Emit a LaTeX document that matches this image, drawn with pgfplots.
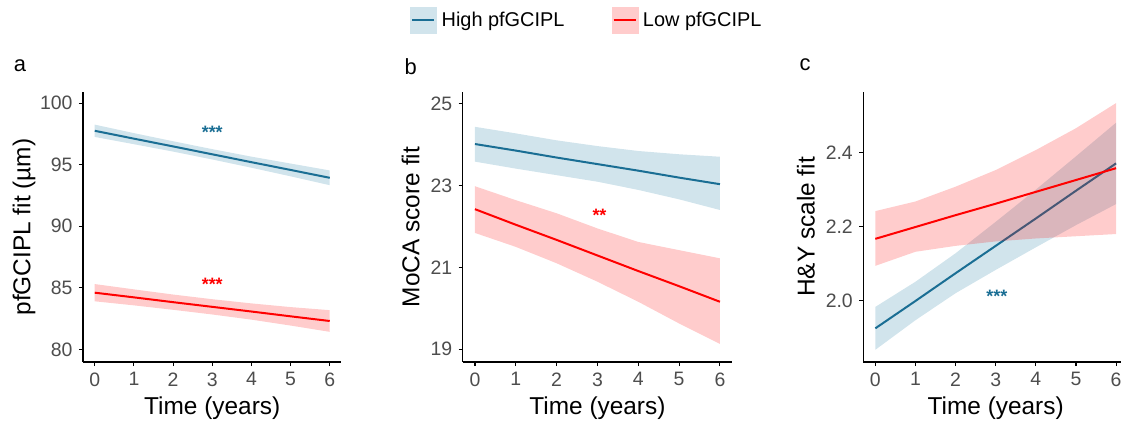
\documentclass[border=0pt]{standalone}
\usepackage{pgfplots}
\pgfplotsset{compat=1.18}
\usepackage{fontspec}
\setmainfont{Liberation Sans}

\definecolor{hiline}{HTML}{1A6E94}
\definecolor{hifill}{HTML}{D1E4EC}
\definecolor{loline}{HTML}{FF0000}
\definecolor{lofill}{HTML}{FFCCCC}
\definecolor{ticklab}{HTML}{4D4D4D}

\pgfplotsset{
  panel/.style={
    scale only axis, height=270bp,
    axis lines=left,
    axis line style={-, line width=1.1bp, black},
    tick align=outside, major tick length=4bp,
    every tick/.style={black, line width=1.1bp},
    xmin=-0.3, xmax=6.3, xtick={0,...,6},
    /pgf/number format/assume math mode=true,
    ticklabel style={font=\fontsize{19.5}{19.5}\selectfont, text=ticklab},
    xticklabel style={yshift=-3bp},
    yticklabel style={xshift=-3bp},
    xlabel={Time (years)},
    every axis x label/.style={at={(axis description cs:0.5,-0.17)}, anchor=center,
      font=\fontsize{24.5}{24.5}\selectfont},
  },
  ylab/.style={every axis y label/.style={at={(axis description cs:#1,0.5)}, rotate=90,
      anchor=center, font=\fontsize{24.5}{24.5}\selectfont}},
  hiband/.style={draw=none, fill=hifill, forget plot},
  loband/.style={draw=none, fill=red, fill opacity=0.2, forget plot},
  hil/.style={hiline, line width=2bp, forget plot},
  lol/.style={loline, line width=2bp, forget plot},
}

\begin{document}
\begin{tikzpicture}[x=1bp,y=1bp]
\useasboundingbox (0bp,0bp) rectangle (1121bp,425bp);

% panel a
\begin{axis}[panel, ylab=-0.228, at={(83bp,63bp)}, anchor=south west, width=258.5bp,
  ymin=78.97, ymax=100.9, ytick={80,85,...,100}, ylabel={pfGCIPL fit (µm)}]
\addplot[hiband] coordinates {(0,98.25)(1,97.56)(2,96.90)(3,96.26)(4,95.65)(5,95.09)(6,94.53)
  (6,93.33)(5,94.05)(4,94.75)(3,95.42)(2,96.06)(1,96.66)(0,97.25)} -- cycle;
\addplot[hil] coordinates {(0,97.75)(1,97.11)(2,96.48)(3,95.84)(4,95.20)(5,94.57)(6,93.93)};
\addplot[loband] coordinates {(0,85.30)(1,84.87)(2,84.45)(3,84.07)(4,83.73)(5,83.43)(6,83.18)
  (6,81.42)(5,81.93)(4,82.41)(3,82.83)(2,83.21)(1,83.57)(0,83.90)} -- cycle;
\addplot[lol] coordinates {(0,84.60)(1,84.22)(2,83.83)(3,83.45)(4,83.07)(5,82.68)(6,82.30)};
\node[text=hiline, font=\bfseries\fontsize{18}{18}\selectfont, yshift=-3.5bp] at (axis cs:3,97.9) {***};
\node[text=loline, font=\bfseries\fontsize{18}{18}\selectfont, yshift=-3.5bp] at (axis cs:3,85.6) {***};
\end{axis}

% panel b
\begin{axis}[panel, ylab=-0.193, at={(462.7bp,63bp)}, anchor=south west, width=269.5bp,
  ymin=18.69, ymax=25.28, ytick={19,21,23,25}, ylabel={MoCA score fit},
  legend style={at={(axis description cs:-0.1955,1.2667)}, anchor=west, draw=none, fill=none,
    inner sep=0pt, legend columns=2, font=\fontsize{20}{20}\selectfont,
    nodes={inner xsep=5bp},
    /tikz/every even column/.append style={column sep=42bp}},
  legend cell align=left]
\addlegendimage{legend image code/.code={\fill[hifill] (0bp,-13bp) rectangle (26bp,13bp);
  \draw[hiline, line width=2bp] (2bp,0bp) -- (24bp,0bp);}}
\addlegendentry{High pfGCIPL}
\addlegendimage{legend image code/.code={\fill[lofill] (0bp,-13bp) rectangle (26bp,13bp);
  \draw[loline, line width=2bp] (2bp,0bp) -- (24bp,0bp);}}
\addlegendentry{Low pfGCIPL}
\addplot[hiband] coordinates {(0,24.43)(1,24.27)(2,24.10)(3,23.96)(4,23.84)(5,23.76)(6,23.70)
  (6,22.40)(5,22.66)(4,22.89)(3,23.09)(2,23.25)(1,23.41)(0,23.58)} -- cycle;
\addplot[hil] coordinates {(0,24.01)(1,23.85)(2,23.68)(3,23.52)(4,23.36)(5,23.19)(6,23.03)};
\addplot[loband] coordinates {(0,22.98)(1,22.64)(2,22.32)(3,21.95)(4,21.62)(5,21.42)(6,21.22)
  (6,19.13)(5,19.63)(4,20.16)(3,20.65)(2,21.10)(1,21.50)(0,21.84)} -- cycle;
\addplot[lol] coordinates {(0,22.42)(1,22.04)(2,21.67)(3,21.29)(4,20.91)(5,20.54)(6,20.16)};
\node[text=loline, font=\bfseries\fontsize{18}{18}\selectfont, yshift=-3.5bp] at (axis cs:3.05,22.36) {**};
\end{axis}

% panel c
\begin{axis}[panel, ylab=-0.217, at={(863.3bp,63bp)}, anchor=south west, width=264.8bp,
  ymin=1.834, ymax=2.564, ytick={2.0,2.2,2.4}, ylabel={H\&Y scale fit},
  yticklabel style={/pgf/number format/.cd, fixed, fixed zerofill, precision=1}]
\addplot[hiband] coordinates {(0,1.983)(1,2.051)(2,2.128)(3,2.213)(4,2.300)(5,2.390)(6,2.481)
  (6,2.261)(5,2.204)(4,2.144)(3,2.083)(2,2.020)(1,1.947)(0,1.867)} -- cycle;
\addplot[hil] coordinates {(0,1.925)(1,1.999)(2,2.074)(3,2.148)(4,2.222)(5,2.297)(6,2.371)};
\addplot[loband] coordinates {(0,2.242)(1,2.268)(2,2.308)(3,2.353)(4,2.407)(5,2.466)(6,2.534)
  (6,2.180)(5,2.174)(4,2.168)(3,2.160)(2,2.148)(1,2.132)(0,2.094)} -- cycle;
\addplot[lol] coordinates {(0,2.167)(1,2.199)(2,2.231)(3,2.262)(4,2.294)(5,2.326)(6,2.358)};
\node[text=hiline, font=\bfseries\fontsize{18}{18}\selectfont, yshift=-3.5bp] at (axis cs:3.03,2.022) {***};
\end{axis}

\node[font=\fontsize{22}{22}\selectfont] at (20bp,359bp) {a};
\node[font=\fontsize{22}{22}\selectfont] at (410.7bp,358.5bp) {b};
\node[font=\fontsize{22}{22}\selectfont] at (805bp,360bp) {c};
\end{tikzpicture}
\end{document}
